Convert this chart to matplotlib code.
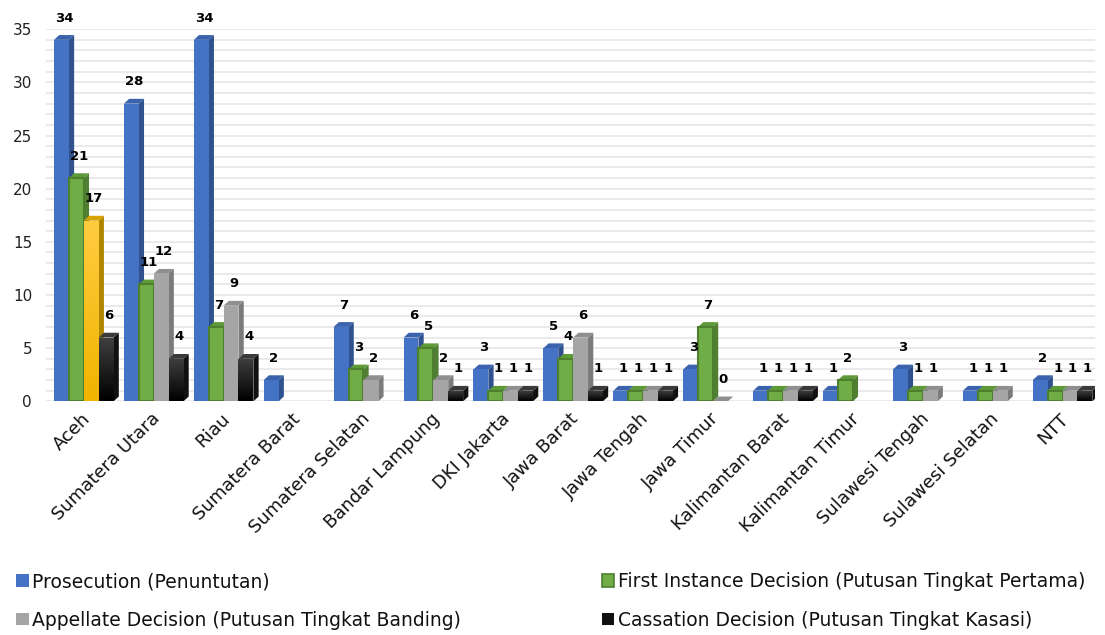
import numpy as np
import matplotlib
matplotlib.use("Agg")
import matplotlib.pyplot as plt
from matplotlib.patches import Rectangle, Polygon, Patch
from matplotlib.colors import LinearSegmentedColormap

regions = ["Aceh", "Sumatera Utara", "Riau", "Sumatera Barat", "Sumatera Selatan",
           "Bandar Lampung", "DKI Jakarta", "Jawa Barat", "Jawa Tengah", "Jawa Timur",
           "Kalimantan Barat", "Kalimantan Timur", "Sulawesi Tengah", "Sulawesi Selatan", "NTT"]
nan = np.nan
prosecution = [34, 28, 34, 2, 7, 6, 3, 5, 1, 3, 1, 1, 3, 1, 2]
first_instance = [21, 11, 7, nan, 3, 5, 1, 4, 1, 7, 1, 2, 1, 1, 1]
appellate = [17, 12, 9, nan, 2, 2, 1, 6, 1, 0, 1, nan, 1, 1, 1]
cassation = [6, 4, 4, nan, nan, 1, 1, 1, 1, nan, 1, nan, nan, nan, 1]
series_names = ["Prosecution (Penuntutan)",
                "First Instance Decision (Putusan Tingkat Pertama)",
                "Appellate Decision (Putusan Tingkat Banding)",
                "Cassation Decision (Putusan Tingkat Kasasi)"]

plt.rcParams['font.family'] = ['DejaVu Sans']

fig = plt.figure(figsize=(11.05, 6.35), dpi=100)
ax = fig.add_axes([0.0416, 0.368, 0.949, 0.586])
ax.set_xlim(0, len(regions))
ax.set_ylim(0, 35)

# depth of the pseudo-3D faces, in data units
dx, dy = 0.075, 0.45
w = 0.213

# (front, side, top, edge)
styles = [
    ("#4472C4", "#2F528F", "#3A62AD", None),
    ("#70AD47", "#507E32", "#5E9A38", "#4E7F2E"),
    ("#A5A5A5", "#7B7B7B", "#8F8F8F", None),
    ("#1A1A1A", "#111111", "#3A3A3A", None),
]
yellow = ("#FFC000", "#B08600", "#D9A300", None)


def gradient_fill(ax, x, h, c_top, c_bot, z):
    grad = np.linspace(0, 1, 64).reshape(-1, 1)
    cmap = LinearSegmentedColormap.from_list("g", [c_top, c_bot])
    im = ax.imshow(grad, cmap=cmap, aspect='auto', extent=(x, x + w, 0, h),
                   origin='upper', zorder=z)
    clip = Rectangle((x, 0), w, h, transform=ax.transData)
    im.set_clip_path(clip)


def draw_bar(ax, x, h, style, z, grad=None):
    front, side, top, edge = style
    ax.add_patch(Polygon([(x + w, 0), (x + w + dx, dy), (x + w + dx, h + dy), (x + w, h)],
                         closed=True, facecolor=side, edgecolor='none', zorder=z))
    ax.add_patch(Polygon([(x, h), (x + dx, h + dy), (x + w + dx, h + dy), (x + w, h)],
                         closed=True, facecolor=top, edgecolor='none', zorder=z))
    if h > 0:
        if grad is not None:
            gradient_fill(ax, x, h, grad[0], grad[1], z)
        else:
            ax.add_patch(Rectangle((x, 0), w, h, facecolor=front,
                                   edgecolor=edge if edge else 'none',
                                   lw=1.5 if edge else 0, zorder=z + 0.1))


all_series = [prosecution, first_instance, appellate, cassation]
z = 3
for i in range(len(regions)):
    group_left = i + 0.115
    for s, vals in enumerate(all_series):
        v = vals[i]
        if np.isnan(v):
            continue
        x = group_left + s * w
        style = styles[s]
        grad = None
        if s == 3:
            grad = ("#3F3F3F", "#000000")
        if s == 2 and i == 0:
            style = yellow
            grad = ("#FFCC40", "#F0B400")
        draw_bar(ax, x, v, style, z, grad)
        z += 0.5
        ax.text(x + w / 2 + dx / 2, v + dy + 1.6, f"{int(v)}", ha='center', va='center',
                fontsize=9.5, fontweight='bold', color='black', zorder=100, clip_on=False)

# light gridlines every unit
for yv in range(0, 36):
    ax.axhline(yv, color='#E6E6E6', lw=1.2, zorder=0)

ax.set_yticks(range(0, 36, 5))
ax.set_yticklabels([str(t) for t in range(0, 36, 5)], fontsize=11, color='#222222')
ax.set_xticks(np.arange(len(regions)) + 0.5)
ax.set_xticklabels(regions, rotation=45, ha='right', rotation_mode='anchor',
                   fontsize=13, color='#111111')
ax.tick_params(length=0, pad=6)
ax.tick_params(axis='y', pad=10)
for sp in ax.spines.values():
    sp.set_visible(False)

legend_colors = ["#4472C4", "#70AD47", "#A5A5A5", "#111111"]
legend_edges = ["none", "#4E7F2E", "none", "none"]
handles = [Patch(facecolor=c, edgecolor=e, lw=1.2) for c, e in zip(legend_colors, legend_edges)]

kw = dict(frameon=False, fontsize=13.5, handlelength=0.65, handleheight=0.65,
          handletextpad=0.2, labelspacing=1.05, borderaxespad=0)
fig.legend([handles[0], handles[2]], [series_names[0], series_names[2]],
           loc='upper left', bbox_to_anchor=(0.008, 0.111), **kw)
fig.legend([handles[1], handles[3]], [series_names[1], series_names[3]],
           loc='upper left', bbox_to_anchor=(0.538, 0.111), **kw)
for leg in fig.legends:
    for t in leg.get_texts():
        t.set_color('#111111')

fig.savefig("out.png", dpi=100)
